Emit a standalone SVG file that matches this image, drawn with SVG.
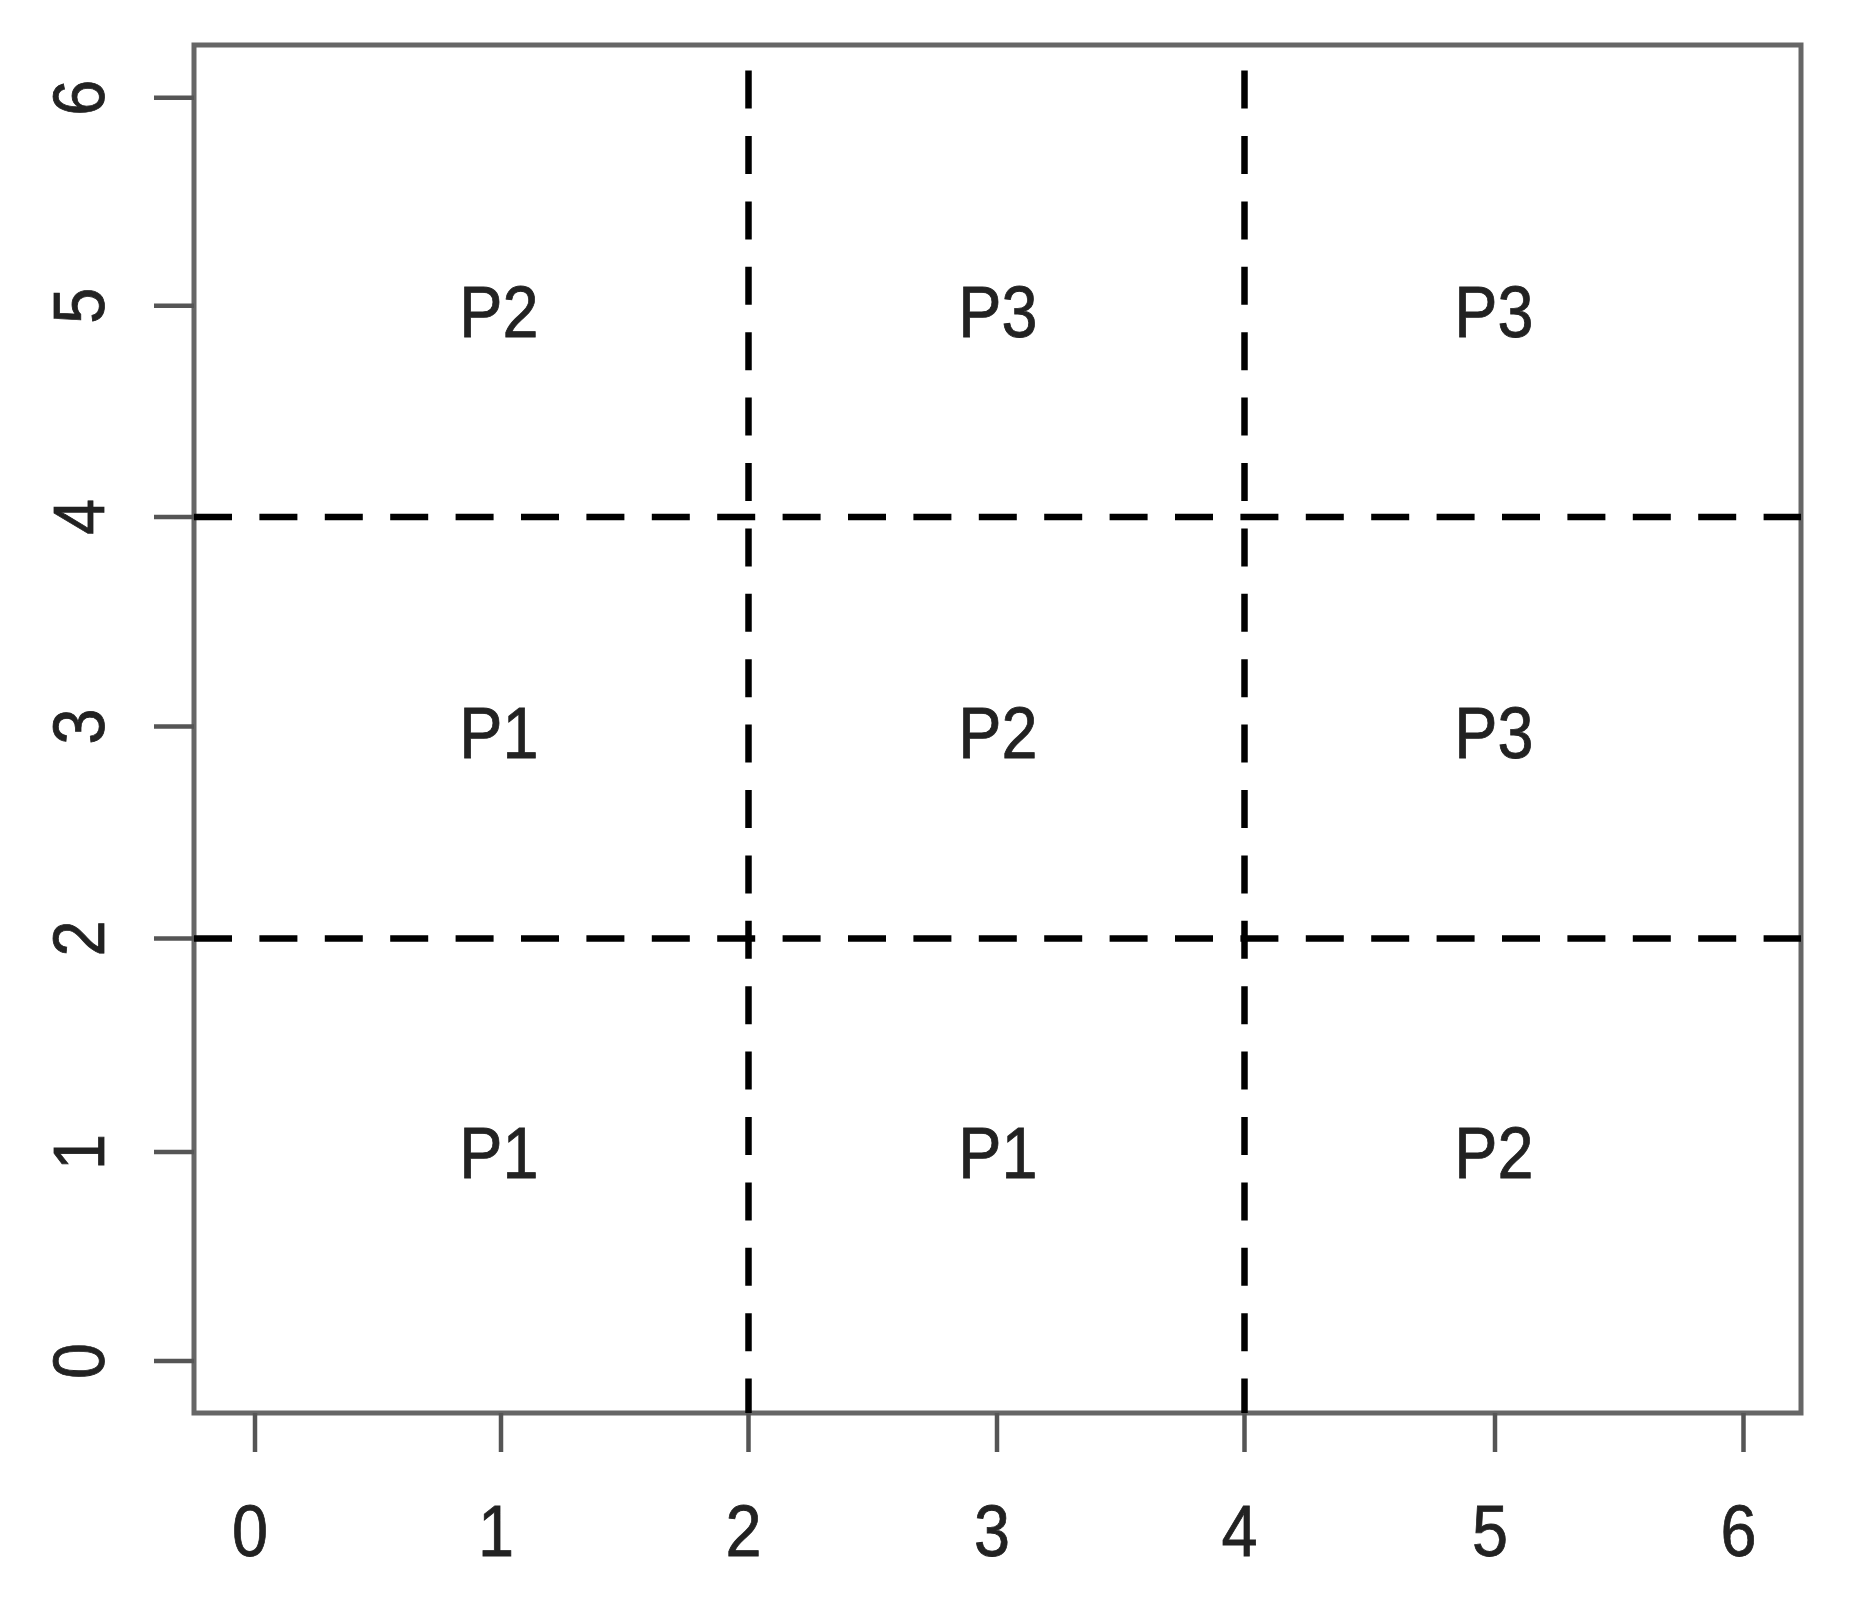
<svg xmlns="http://www.w3.org/2000/svg" width="1851" height="1606" viewBox="0 0 1851 1606">
<style>
.frame{fill:none;stroke:#666;stroke-width:5}
.tick{stroke:#555;stroke-width:4.5}
.grid{stroke:#000;stroke-width:6.5;stroke-dasharray:38 27.4;fill:none}
.lbl{font-family:"Liberation Sans",Arial,sans-serif;font-size:72px;fill:#222;stroke:#222;stroke-width:0.8;text-anchor:middle}
</style>
<rect width="1851" height="1606" fill="#fff"/>
<g id="axes">
<rect class="frame" x="194" y="45" width="1607" height="1368"/>
<g id="x-ticks">
<line class="tick" x1="255" y1="1413" x2="255" y2="1452"/>
<line class="tick" x1="501" y1="1413" x2="501" y2="1452"/>
<line class="tick" x1="748.5" y1="1413" x2="748.5" y2="1452"/>
<line class="tick" x1="997" y1="1413" x2="997" y2="1452"/>
<line class="tick" x1="1244.5" y1="1413" x2="1244.5" y2="1452"/>
<line class="tick" x1="1495" y1="1413" x2="1495" y2="1452"/>
<line class="tick" x1="1743.5" y1="1413" x2="1743.5" y2="1452"/>
</g>
<g id="x-labels">
<text class="lbl" transform="translate(250,1556) scale(0.9,1)">0</text>
<text class="lbl" transform="translate(496,1556) scale(0.9,1)">1</text>
<text class="lbl" transform="translate(743.5,1556) scale(0.9,1)">2</text>
<text class="lbl" transform="translate(992,1556) scale(0.9,1)">3</text>
<text class="lbl" transform="translate(1239.5,1556) scale(0.9,1)">4</text>
<text class="lbl" transform="translate(1490,1556) scale(0.9,1)">5</text>
<text class="lbl" transform="translate(1738.5,1556) scale(0.9,1)">6</text>
</g>
<g id="y-ticks">
<line class="tick" x1="154" y1="1361" x2="194" y2="1361"/>
<line class="tick" x1="154" y1="1152" x2="194" y2="1152"/>
<line class="tick" x1="154" y1="938.5" x2="194" y2="938.5"/>
<line class="tick" x1="154" y1="726.5" x2="194" y2="726.5"/>
<line class="tick" x1="154" y1="517" x2="194" y2="517"/>
<line class="tick" x1="154" y1="305.7" x2="194" y2="305.7"/>
<line class="tick" x1="154" y1="97.7" x2="194" y2="97.7"/>
</g>
<g id="y-labels">
<text class="lbl" transform="translate(104,1361) rotate(-90) scale(0.9,1)">0</text>
<text class="lbl" transform="translate(104,1152) rotate(-90) scale(0.9,1)">1</text>
<text class="lbl" transform="translate(104,938.5) rotate(-90) scale(0.9,1)">2</text>
<text class="lbl" transform="translate(104,726.5) rotate(-90) scale(0.9,1)">3</text>
<text class="lbl" transform="translate(104,517) rotate(-90) scale(0.9,1)">4</text>
<text class="lbl" transform="translate(104,305.7) rotate(-90) scale(0.9,1)">5</text>
<text class="lbl" transform="translate(104,97.7) rotate(-90) scale(0.9,1)">6</text>
</g>
</g>
<g id="connectors">
<line class="grid" x1="748.5" y1="70.6" x2="748.5" y2="1413"/>
<line class="grid" x1="1244.5" y1="70.6" x2="1244.5" y2="1413"/>
<line class="grid" x1="194" y1="517" x2="1801" y2="517"/>
<line class="grid" x1="194" y1="938.5" x2="1801" y2="938.5"/>
</g>
<g id="cell-1-5"><text class="lbl" transform="translate(499,337) scale(0.9,1)">P2</text></g>
<g id="cell-3-5"><text class="lbl" transform="translate(998,337) scale(0.9,1)">P3</text></g>
<g id="cell-5-5"><text class="lbl" transform="translate(1494,337) scale(0.9,1)">P3</text></g>
<g id="cell-1-3"><text class="lbl" transform="translate(499,758) scale(0.9,1)">P1</text></g>
<g id="cell-3-3"><text class="lbl" transform="translate(998,758) scale(0.9,1)">P2</text></g>
<g id="cell-5-3"><text class="lbl" transform="translate(1494,758) scale(0.9,1)">P3</text></g>
<g id="cell-1-1"><text class="lbl" transform="translate(499,1178) scale(0.9,1)">P1</text></g>
<g id="cell-3-1"><text class="lbl" transform="translate(998,1178) scale(0.9,1)">P1</text></g>
<g id="cell-5-1"><text class="lbl" transform="translate(1494,1178) scale(0.9,1)">P2</text></g>
</svg>
